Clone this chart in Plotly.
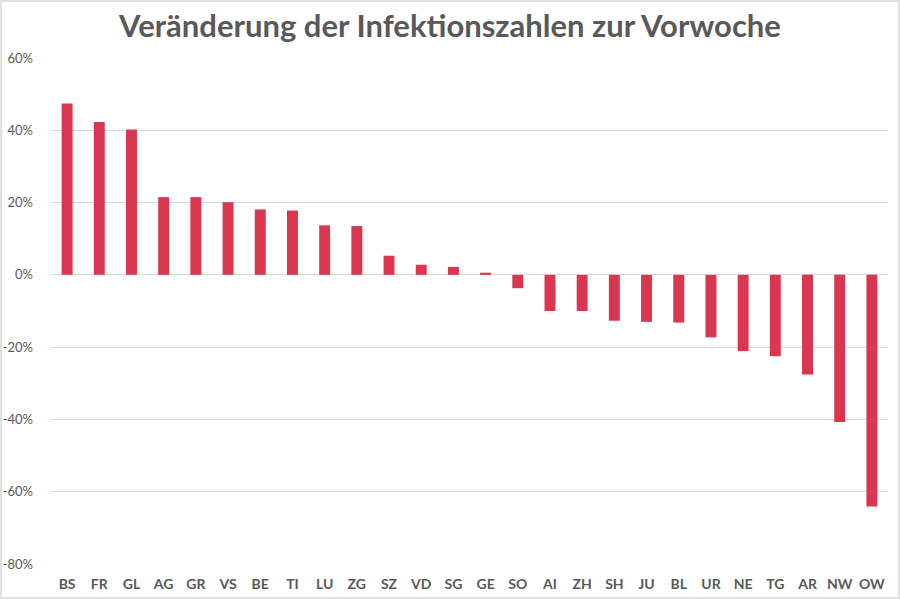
import plotly.graph_objects as go

kantone = ["BS", "FR", "GL", "AG", "GR", "VS", "BE", "TI", "LU", "ZG", "SZ", "VD", "SG",
           "GE", "SO", "AI", "ZH", "SH", "JU", "BL", "UR", "NE", "TG", "AR", "NW", "OW"]
veraenderung = [47.4, 42.3, 40.2, 21.5, 21.5, 20.1, 18.1, 17.8, 13.7, 13.5, 5.3, 2.8, 2.2,
                0.6, -3.7, -10.0, -10.0, -12.7, -13.0, -13.2, -17.3, -21.1, -22.5, -27.6,
                -40.7, -64.1]
y_ticks = [60, 40, 20, 0, -20, -40, -60, -80]
y_labels = ["60%", "40%", "20%", "0%", "-20%", "-40%", "-60%", "-80%"]

fig = go.Figure(go.Bar(x=kantone, y=veraenderung, marker_color="#DA3650",
                       marker_line_width=0))

W, H = 900, 599
ml, mr, mt, mb = 51, 12, 58, 35
fig.update_layout(
    width=W, height=H,
    margin=dict(l=ml, r=mr, t=mt, b=mb),
    paper_bgcolor="white", plot_bgcolor="white",
    bargap=0.66,
    showlegend=False,
    font=dict(family="Lato", color="#595959"),
    title=dict(text="<b>Veränderung der Infektionszahlen zur Vorwoche</b>",
               x=0.5, xanchor="center", y=1 - 26 / H, yanchor="middle",
               font=dict(family="Lato", size=31, color="#595959")),
)
fig.update_yaxes(range=[-80, 60], tickvals=y_ticks, ticktext=y_labels,
                 showgrid=True, gridcolor="#D9D9D9", gridwidth=1,
                 zeroline=True, zerolinecolor="#D9D9D9", zerolinewidth=1,
                 tickfont=dict(size=13, color="#595959"), ticks="", showline=False,
                 ticklabelstandoff=17, automargin=False)
fig.update_xaxes(showgrid=False, showline=False, ticks="", ticklabelstandoff=10,
                 automargin=False,
                 tickfont=dict(family="Lato", size=14, color="#595959", weight="bold"))

# light frame around the whole picture
pw = W - ml - mr
ph = H - mt - mb
fig.add_shape(type="rect", xref="paper", yref="paper",
              x0=-(ml - 1) / pw, x1=1 + (mr - 1) / pw,
              y0=-(mb - 1) / ph, y1=1 + (mt - 1) / ph,
              line=dict(color="#E0E0E0", width=2))

# drop the default page margin so the figure sits at the window's corner
fig.write_html("out.html", config={"displayModeBar": False},
               post_script="document.body.style.margin='0';")
